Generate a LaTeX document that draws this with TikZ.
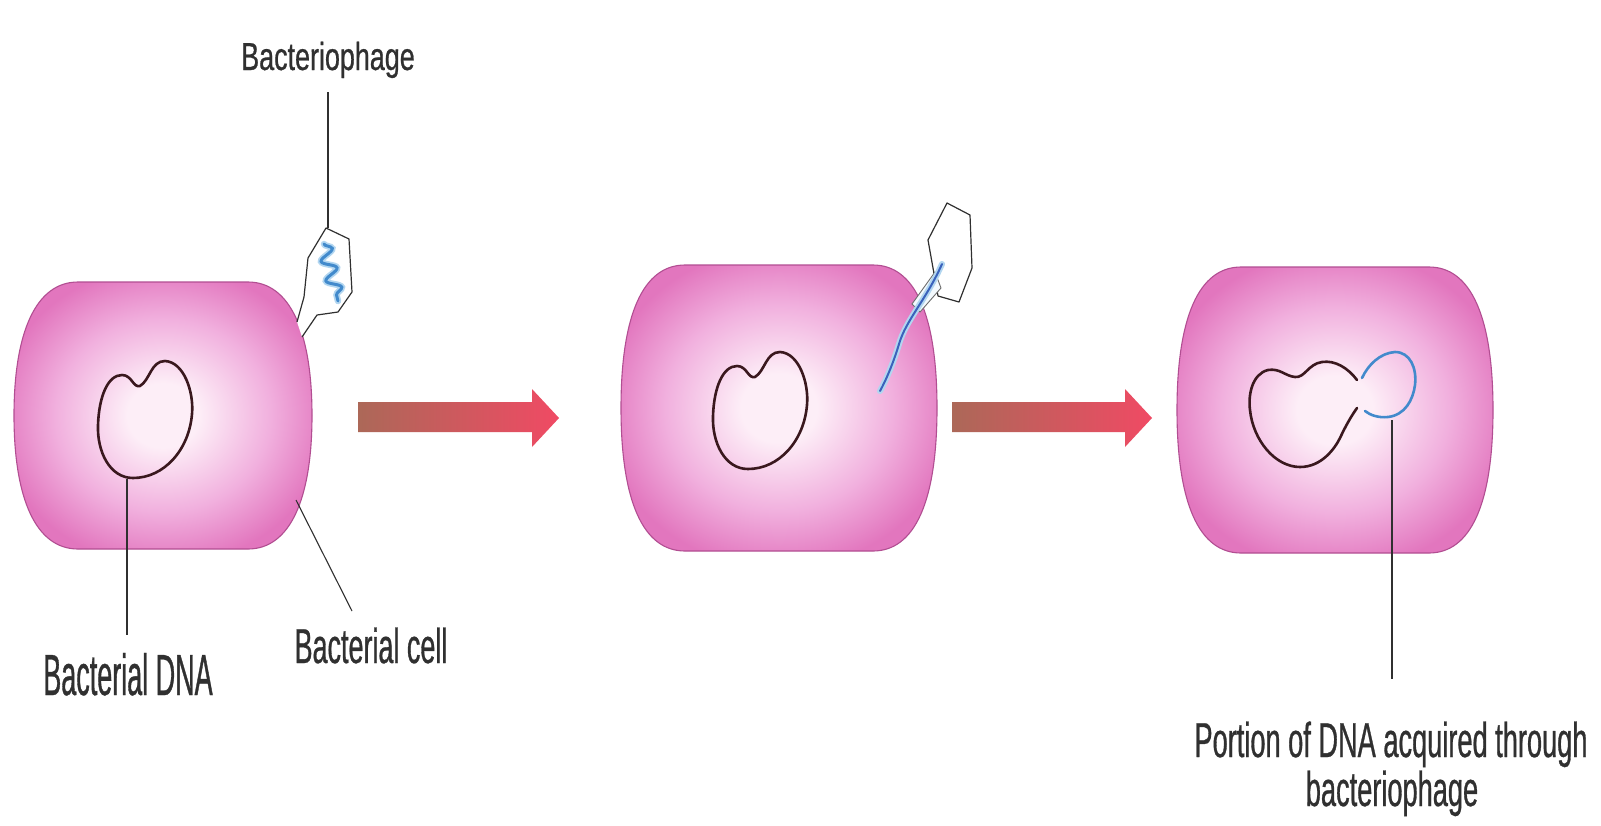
\documentclass[tikz,border=0pt]{standalone}
\usepackage{fontspec}
\usetikzlibrary{decorations.pathmorphing}
\newfontfamily\fPhage[FakeStretch=0.69, FakeBold=0.6]{Liberation Sans}
\newfontfamily\fDNA[FakeStretch=0.465, FakeBold=0.6]{Liberation Sans}
\newfontfamily\fCell[FakeStretch=0.55, FakeBold=0.6]{Liberation Sans}
\newfontfamily\fPortion[FakeStretch=0.555, FakeBold=0.6]{Liberation Sans}

\definecolor{cellout}{RGB}{226,118,190}
\definecolor{cellmid}{RGB}{241,176,222}
\definecolor{cellin}{RGB}{253,238,247}
\definecolor{celledge}{RGB}{178,78,146}
\definecolor{dnacol}{RGB}{58,24,30}
\definecolor{phageblue}{RGB}{66,138,204}
\definecolor{phagehalo}{RGB}{178,214,240}
\definecolor{strandblue}{RGB}{58,98,188}
\definecolor{arrowbrown}{RGB}{172,104,88}
\definecolor{arrowred}{RGB}{240,74,100}
\definecolor{inkgray}{RGB}{48,48,48}

\pgfdeclareradialshading{cellglow}{\pgfpoint{0bp}{0bp}}{%
  color(0bp)=(cellin); color(6bp)=(cellin); color(18bp)=(cellmid);
  color(28bp)=(cellout); color(50bp)=(cellout)}

% rod-shaped bacterial cell: name, left, right, top, bottom
\newcommand\bcell[5]{%
  \shade[shading=cellglow]
    (#2+64,#4) -- (#3-64,#4)
    .. controls (#3-22,#4) and (#3,#4+50) .. (#3,{(#4+#5)/2})
    .. controls (#3,#5-50) and (#3-22,#5) .. (#3-64,#5)
    -- (#2+64,#5)
    .. controls (#2+22,#5) and (#2,#5-50) .. (#2,{(#4+#5)/2})
    .. controls (#2,#4+50) and (#2+22,#4) .. cycle;
  \draw[celledge, line width=1.1]
    (#2+64,#4) -- (#3-64,#4)
    .. controls (#3-22,#4) and (#3,#4+50) .. (#3,{(#4+#5)/2})
    .. controls (#3,#5-50) and (#3-22,#5) .. (#3-64,#5)
    -- (#2+64,#5)
    .. controls (#2+22,#5) and (#2,#5-50) .. (#2,{(#4+#5)/2})
    .. controls (#2,#4+50) and (#2+22,#4) .. cycle;
  \coordinate (#1) at ({(#2+#3)/2},{(#4+#5)/2});
}

% block arrow: name, left, right
\newcommand\blockarrow[3]{%
  \shade[left color=arrowbrown, right color=arrowred]
    (#2,402) -- (#3-27,402) -- (#3-27,389) -- (#3,418)
    -- (#3-27,447) -- (#3-27,432) -- (#2,432) -- cycle;
  \coordinate (#1) at ({(#2+#3)/2},418);
}

\tikzset{
  dnaline/.style={draw=dnacol, line width=2.6, line cap=round, line join=round},
  leader/.style={draw=inkgray, line width=1.1},
  phagebody/.style={fill=white, draw=inkgray, line width=1.2, line join=round},
  lbl/.style={text=inkgray, inner sep=0pt, anchor=base},
  kidney/.pic={
    \draw[dnaline] (140,386)
      .. controls (150,380) and (151,361) .. (165,361)
      .. controls (184,362) and (194,392) .. (192,414)
      .. controls (189,450) and (164,478) .. (133,478)
      .. controls (110,478) and (97,452) .. (98,425)
      .. controls (99,396) and (108,375) .. (122,375)
      .. controls (132,375) and (133,388) .. cycle;
  }
}

\begin{document}
\begin{tikzpicture}[x=1pt, y=-1pt]
  \fill[white] (0,0) rectangle (1601,825);
  \useasboundingbox (0,0) rectangle (1601,825);

  % the three cells
  \bcell{cellA}{14}{312}{282}{549}
  \bcell{cellB}{621}{937}{265}{551}
  \bcell{cellC}{1177}{1493}{267}{553}

  % arrows between the stages
  \blockarrow{arrA}{358}{559}
  \blockarrow{arrB}{952}{1152}

  % stage 1: chromosome and attached phage
  \pic at (0,0) {kidney};
  \filldraw[phagebody] (297,322) -- (304,297) -- (308,258) -- (326,228)
    -- (349,239) -- (352,292) -- (338,312) -- (317,315) -- (302,337);
  \draw[phagehalo, line width=6.5, line cap=round, decorate,
        decoration={snake, amplitude=7, segment length=20}] (324,244) -- (338,301);
  \draw[phageblue, line width=3, line cap=round, decorate,
        decoration={snake, amplitude=7, segment length=20}] (324,244) -- (338,301);

  % stage 2: phage injects its DNA
  \pic at (615,-9) {kidney};
  \filldraw[phagebody] (947,203) -- (970,215) -- (972,268) -- (959,302)
    -- (938,296) -- (928,240) -- cycle;
  \filldraw[fill=white!85!phagehalo, draw=inkgray!70, line width=0.9]
    (935,272) -- (912,304) -- (920,312) -- (941,288) -- cycle;
  \draw[phagehalo, line width=6, line cap=round]
    (942,264) .. controls (926,300) and (906,320) .. (899,344)
    .. controls (893,364) and (886,380) .. (880,391);
  \draw[strandblue, line width=2, line cap=round]
    (942,264) .. controls (926,300) and (906,320) .. (899,344)
    .. controls (893,364) and (886,380) .. (880,391);

  % stage 3: chromosome carrying the acquired segment
  \draw[dnaline] (1357,380)
    .. controls (1348,368) and (1335,360) .. (1322,362)
    .. controls (1308,364) and (1305,378) .. (1295,377)
    .. controls (1285,376) and (1280,368) .. (1268,370)
    .. controls (1252,374) and (1248,395) .. (1250,410)
    .. controls (1253,440) and (1275,467) .. (1300,467)
    .. controls (1322,467) and (1335,448) .. (1340,438)
    .. controls (1346,425) and (1352,415) .. (1357,408);
  \draw[phageblue, line width=2.6, line cap=round] (1362,378)
    .. controls (1368,365) and (1380,353) .. (1395,352)
    .. controls (1410,352) and (1417,368) .. (1415,385)
    .. controls (1413,400) and (1405,415) .. (1388,417)
    .. controls (1378,418) and (1370,415) .. (1365,411);

  % labels
  \node[lbl, font=\fPhage\fontsize{39}{39}\selectfont] (phageLbl) at (328,70) {Bacteriophage};
  \node[lbl, font=\fDNA\fontsize{58}{58}\selectfont] (dnaLbl) at (128,695) {Bacterial DNA};
  \node[lbl, font=\fCell\fontsize{49}{49}\selectfont] (cellLbl) at (371,663) {Bacterial cell};
  \node[lbl, font=\fPortion\fontsize{49}{49}\selectfont] (portLbl) at (1391,757) {Portion of DNA acquired through};
  \node[lbl, font=\fPortion\fontsize{49}{49}\selectfont] (portLblB) at (1392,806) {bacteriophage};

  % leader lines
  \coordinate (phageTop) at (328,92);
  \coordinate (phageHead) at (328,228);
  \draw[leader] (phageTop) -- (phageHead);
  \coordinate (dnaA) at (127,479);
  \coordinate (dnaB) at (127,635);
  \draw[leader] (dnaA) -- (dnaB);
  \coordinate (wallA) at (296,500);
  \coordinate (wallB) at (352,611);
  \draw[leader] (wallA) -- (wallB);
  \coordinate (loopA) at (1392,420);
  \coordinate (loopB) at (1392,679);
  \draw[leader] (loopA) -- (loopB);
\end{tikzpicture}
\end{document}
